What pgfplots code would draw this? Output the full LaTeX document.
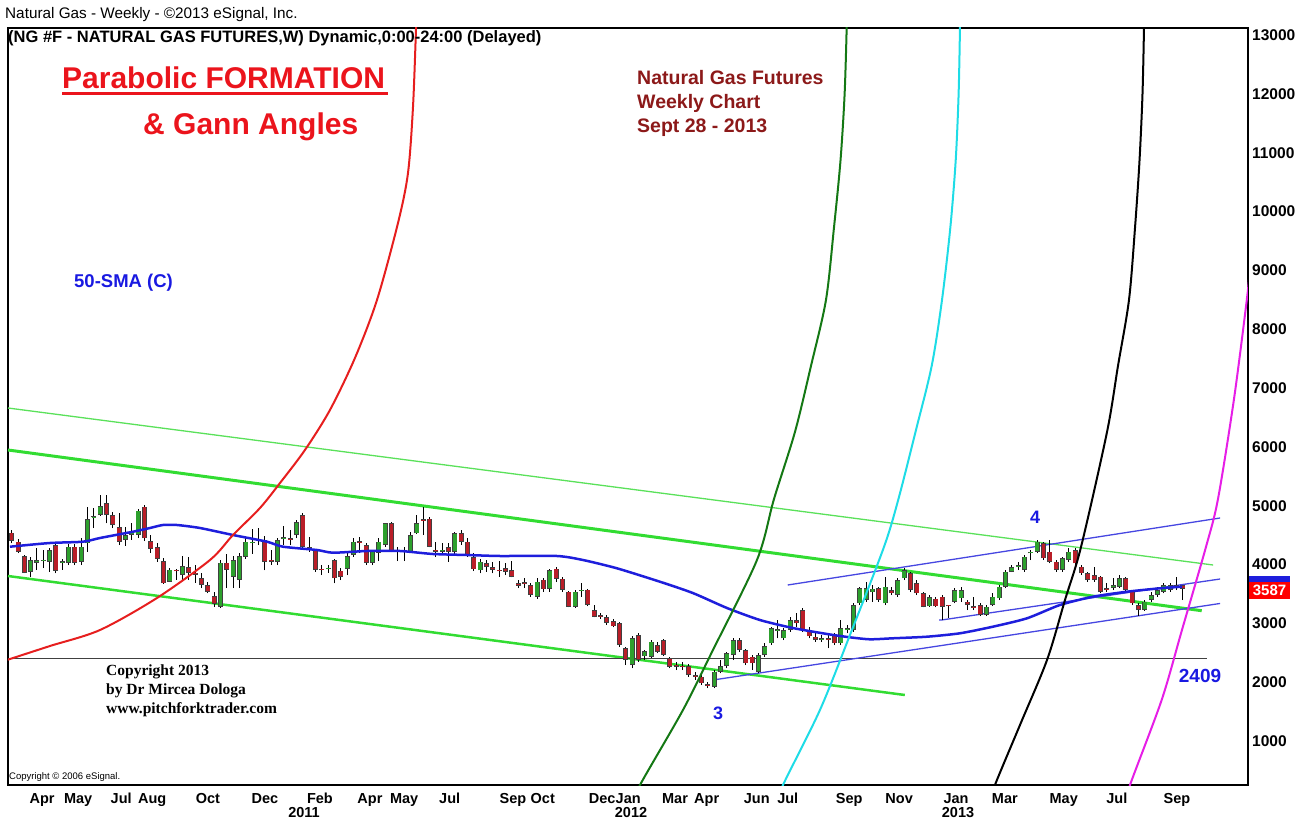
\documentclass[border=0pt]{standalone}
\usepackage{pgfplots}
\pgfplotsset{compat=1.18}
\usepackage{pgfplotstable}
\usepackage{fontspec}
\setmainfont{Liberation Sans}
\newfontfamily\serifb{Liberation Serif}
\definecolor{cgreen}{RGB}{45,160,45}
\definecolor{cred}{RGB}{185,30,40}
\definecolor{lgreen}{RGB}{50,220,50}
\definecolor{tgreen}{RGB}{90,225,90}
\definecolor{smablue}{RGB}{30,30,220}
\definecolor{tblue}{RGB}{70,70,225}
\definecolor{arcred}{RGB}{230,30,30}
\definecolor{arcgreen}{RGB}{20,120,20}
\definecolor{arccyan}{RGB}{30,220,230}
\definecolor{arcmag}{RGB}{230,30,230}
\definecolor{txtred}{RGB}{235,20,28}
\definecolor{darkred}{RGB}{140,25,25}
\definecolor{txtblue}{RGB}{25,25,225}

\pgfplotstableread{
i O H L C
0 4540 4587 4360 4400
1 4390 4434 4196 4220
2 4145 4162 3856 3860
3 3878 4123 3793 4077
4 4030 4281 3907 4077
5 4060 4247 3940 4080
6 4050 4281 3878 4247
7 4332 4360 3850 3895
8 4030 4100 3910 4060
9 4026 4350 3990 4303
10 4303 4350 3990 4026
11 4050 4445 3990 4303
12 4360 4983 4218 4769
13 4800 4960 4620 4820
14 4840 5180 4830 4995
15 5040 5180 4700 4840
16 4840 4900 4620 4670
17 4640 4870 4330 4390
18 4420 4640 4320 4500
19 4500 4710 4420 4560
20 4500 4950 4450 4915
21 4983 5010 4400 4445
22 4400 4500 4200 4270
23 4300 4360 4050 4100
24 4060 4111 3670 3680
25 3710 3940 3700 3915
26 3910 3920 3740 3885
27 3820 4145 3740 3975
28 3960 4130 3740 3860
29 3860 3990 3690 3820
30 3770 3850 3600 3650
31 3650 3700 3510 3540
32 3465 3540 3280 3330
33 3280 4080 3260 4030
34 4030 4180 3600 3915
35 3790 4145 3600 4077
36 3740 4190 3600 4145
37 4130 4450 4100 4390
38 4360 4600 4180 4390
39 4440 4620 4330 4410
40 4417 4480 3900 4050
41 4080 4240 4000 4050
42 4050 4450 3990 4417
43 4430 4650 4330 4460
44 4450 4590 4330 4420
45 4500 4760 4450 4725
46 4840 4870 4270 4300
47 4300 4470 4220 4270
48 4247 4270 3880 3907
49 3930 3990 3820 3905
50 3920 3990 3860 3945
51 4077 4100 3680 3765
52 3895 3940 3737 3793
53 3930 4190 3820 4145
54 4160 4450 4130 4390
55 4400 4470 4200 4370
56 4330 4360 4000 4030
57 4030 4250 3990 4220
58 4200 4450 4060 4390
59 4330 4710 4300 4700
60 4700 4720 4210 4220
61 4250 4300 4060 4220
62 4220 4300 4060 4250
63 4220 4560 4200 4500
64 4530 4840 4520 4700
65 4770 4983 4500 4745
66 4780 4810 4290 4300
67 4250 4390 4130 4220
68 4220 4360 4160 4250
69 4300 4360 4050 4220
70 4220 4560 4160 4530
71 4530 4590 4330 4390
72 4390 4450 4130 4160
73 4130 4190 3890 3920
74 3900 4100 3850 4050
75 4020 4080 3880 3960
76 3960 4050 3850 3910
77 3910 4060 3790 3885
78 3940 4030 3820 3880
79 3900 4060 3780 3790
80 3680 3740 3600 3640
81 3700 3770 3600 3675
82 3650 3680 3450 3480
83 3450 3770 3420 3710
84 3740 3770 3540 3580
85 3590 3930 3540 3900
86 3930 3960 3700 3760
87 3760 3780 3540 3570
88 3540 3550 3270 3280
89 3280 3560 3260 3540
90 3550 3680 3450 3575
91 3570 3580 3290 3310
92 3220 3310 3100 3110
93 3140 3180 3080 3110
94 3100 3140 2980 3010
95 3040 3080 2930 2950
96 3000 3029 2604 2632
97 2575 2600 2290 2377
98 2292 2785 2235 2745
99 2802 2830 2350 2377
100 2440 2550 2380 2530
101 2434 2717 2405 2689
102 2632 2689 2490 2519
103 2717 2730 2445 2462
104 2405 2434 2235 2264
105 2300 2350 2207 2260
106 2280 2350 2207 2255
107 2275 2309 2094 2122
108 2120 2180 2040 2090
109 2094 2122 1952 1980
110 1970 2010 1900 1940
111 1924 2207 1895 2179
112 2179 2377 2150 2275
113 2275 2519 2235 2490
114 2462 2745 2377 2717
115 2717 2745 2519 2547
116 2547 2560 2292 2320
117 2434 2462 2207 2320
118 2179 2490 2150 2462
119 2462 2660 2434 2615
120 2660 2944 2632 2915
121 2870 3057 2745 2900
122 2745 2915 2717 2887
123 2887 3114 2859 3057
124 3057 3170 2944 3000
125 3227 3255 2859 2887
126 2860 2944 2745 2780
127 2775 2830 2689 2717
128 2720 2802 2689 2745
129 2745 2802 2575 2717
130 2802 2830 2632 2660
131 2660 3057 2632 2915
132 2880 2972 2830 2915
133 2887 3340 2859 3312
134 3340 3624 3312 3595
135 3397 3709 3369 3595
136 3530 3652 3369 3590
137 3595 3624 3369 3397
138 3340 3794 3312 3624
139 3567 3624 3482 3510
140 3482 3765 3454 3737
141 3765 3935 3737 3907
142 3850 3879 3539 3567
143 3680 3737 3482 3510
144 3510 3539 3270 3284
145 3290 3482 3280 3440
146 3420 3454 3270 3290
147 3454 3482 3057 3284
148 3312 3320 3085 3290
149 3369 3595 3340 3567
150 3425 3624 3369 3567
151 3369 3397 3227 3312
152 3284 3454 3227 3262
153 3312 3340 3125 3142
154 3142 3312 3125 3284
155 3312 3510 3295 3454
156 3425 3652 3397 3624
157 3624 3907 3595 3879
158 3880 3992 3870 3950
159 3964 4049 3907 3992
160 3907 4162 3879 4134
161 4190 4247 4077 4220
162 4219 4417 4190 4389
163 4360 4389 4077 4105
164 4219 4417 4020 4049
165 4049 4077 3879 3907
166 3907 4134 3879 4105
167 4077 4275 4049 4219
168 4247 4275 3992 4020
169 3964 3992 3822 3850
170 3850 3879 3709 3737
171 3822 3964 3709 3737
172 3794 3810 3510 3539
173 3595 3680 3539 3567
174 3600 3765 3567 3650
175 3624 3822 3595 3765
176 3765 3780 3539 3567
177 3539 3550 3312 3340
178 3312 3340 3125 3227
179 3227 3397 3215 3369
180 3397 3539 3369 3482
181 3482 3624 3454 3567
182 3539 3680 3510 3652
183 3567 3680 3539 3652
184 3620 3794 3567 3650
185 3652 3660 3397 3587
}\candles

\pgfplotstableread{
i P
-0.27 4303
6.05 4366
11.26 4388
13.95 4451
19.16 4558
21.85 4621
23.9 4672
26.1 4672
29.75 4621
34.96 4502
40.33 4388
42.86 4303
48.23 4247
50.76 4201
56.13 4230
61.34 4230
66.55 4179
71.92 4162
77.14 4145
86.14 4145
90.25 4077
95.62 3936
102.4 3708
107.6 3516
113.0 3261
118.2 3057
123.4 2921
128.8 2819
132.4 2763
135.6 2729
139.2 2746
144.6 2773
149.8 2831
155.0 2943
160.4 3086
165.6 3312
170.8 3453
176.2 3538
181.4 3596
184.9 3623
}\sma

\begin{document}
\begin{tikzpicture}
\path[use as bounding box] (0,0) rectangle (1313pt,820pt);
\begin{axis}[
  at={(8pt,35pt)}, anchor=south west,
  scale only axis, width=1240pt, height=757pt,
  xmin=-0.58, xmax=195.31, ymin=252, ymax=13121,
  axis line style={black, line width=1.2pt},
  clip mode=individual,
  major tick length=0pt,
  scaled y ticks=false, scaled x ticks=false,
  xtick={4.8,10.5,17.3,22.2,31.0,40.0,48.7,56.6,62.0,69.2,79.2,83.9,93.3,97.4,104.8,109.8,117.7,122.6,132.3,140.2,149.2,156.9,166.2,174.6,184.1},
  xticklabels={Apr,May,Jul,Aug,Oct,Dec,Feb,Apr,May,Jul,Sep,Oct,Dec,Jan,Mar,Apr,Jun,Jul,Sep,Nov,Jan,Mar,May,Jul,Sep},
  xticklabel style={anchor=base, yshift=-18pt, inner sep=0pt, font=\bfseries\fontsize{14.5}{14.5}\selectfont},
  ytick={1000,2000,3000,4000,5000,6000,7000,8000,9000,10000,11000,12000,13000},
  yticklabels={1000,2000,3000,4000,5000,6000,7000,8000,9000,10000,11000,12000,13000},
  yticklabel pos=right,
  yticklabel style={anchor=west, inner sep=0pt, xshift=4pt, font=\bfseries\fontsize{15.5}{15.5}\selectfont},
]
% channel lines
\addplot[tgreen, line width=1.3pt] coordinates {(-0.58,6661) (189.8,3992)};
\addplot[lgreen, line width=3pt] coordinates {(-0.58,5947) (188.0,3215)};
\addplot[lgreen, line width=2.5pt] coordinates {(-0.58,3805) (141.1,1782)};
\addplot[black!75, line width=1.2pt] coordinates {(-0.58,2409) (188.9,2409)};
\addplot[tblue, line width=1.3pt] coordinates {(122.6,3652) (190.9,4791)};
\addplot[tblue, line width=1.3pt] coordinates {(146.5,3057) (146.9,3057) (190.9,3754)};
\addplot[tblue, line width=1.3pt] coordinates {(110.8,2037) (190.9,3338)};
% candles: wicks
\addplot[draw=none, mark=none, error bars/.cd, y dir=plus, y explicit, error mark=none,
  error bar style={draw=black, solid, line width=1pt}]
  table[x=i, y=L, y error expr={\thisrow{H}-\thisrow{L}}] {\candles};
% bodies outline
\addplot[draw=none, mark=none, error bars/.cd, y dir=plus, y explicit, error mark=none,
  error bar style={draw=black!75, solid, line width=5pt}]
  table[x=i, y expr={min(\thisrow{O},\thisrow{C})}, y error expr={max(abs(\thisrow{C}-\thisrow{O}),25)}] {\candles};
% green bodies
\addplot[draw=none, mark=none, unbounded coords=discard, error bars/.cd, y dir=plus, y explicit, error mark=none,
  error bar style={draw=cgreen, solid, line width=3.6pt}]
  table[x=i, y expr={(\thisrow{C}>=\thisrow{O}) ? (min(\thisrow{O},\thisrow{C})+11) : nan}, y error expr={max(abs(\thisrow{C}-\thisrow{O})-22,4)}] {\candles};
% red bodies
\addplot[draw=none, mark=none, unbounded coords=discard, error bars/.cd, y dir=plus, y explicit, error mark=none,
  error bar style={draw=cred, solid, line width=3.6pt}]
  table[x=i, y expr={(\thisrow{C}<\thisrow{O}) ? (min(\thisrow{O},\thisrow{C})+11) : nan}, y error expr={max(abs(\thisrow{C}-\thisrow{O})-22,4)}] {\candles};
% 50-SMA
\addplot[smablue, line width=2.5pt, smooth, tension=0.4] table[x=i, y=P] {\sma};
% arcs
\addplot[arcred, line width=2pt, smooth, tension=0.5] coordinates {
(-0.74,2377) (6.05,2615) (13.95,2887) (22.95,3431) (31.33,4077) (34.96,4502) (39.23,4961) (42.39,5386) (46.33,5947) (50.28,6627) (54.23,7511) (57.71,8497) (61.03,9806) (62.61,10656) (63.40,11778) (63.88,13121) (64.0,13600)};
\addplot[arcgreen, line width=2pt, smooth, tension=0.5] coordinates {
(98.47,-3) (99.26,252) (106.05,1527) (110.63,2513) (117.74,4077) (120.43,5114) (123.74,6253) (126.27,7375) (128.64,8497) (129.90,9721) (130.93,10860) (131.58,11982) (131.91,13121) (131.95,13600)};
\addplot[arccyan, line width=2pt, smooth, tension=0.5] coordinates {
(121.2,-3) (121.85,252) (127.69,1527) (132.43,2802) (137.8,4298) (140.09,5114) (142.78,6253) (145.34,7375) (146.97,8497) (148.28,9721) (149.13,10860) (149.59,11982) (149.81,13121) (149.85,13600)};
\addplot[black, line width=2pt, smooth, tension=0.5] coordinates {
(154.8,-3) (155.34,252) (159.29,1272) (163.56,2377) (166.4,3397) (168.93,4298) (173.04,6253) (174.77,7375) (176.51,8497) (177.46,9721) (178.17,10860) (178.64,11982) (178.88,13121) (178.9,13600)};
\addplot[arcmag, line width=2pt, smooth, tension=0.5] coordinates {
(176.2,-3) (176.67,252) (181.67,1697) (184.88,2887) (188.67,4298) (190.57,5114) (193.1,6814) (195.12,8497) (195.6,9007)};
\end{axis}
% header texts
\node[anchor=base west, inner sep=0pt, font=\fontsize{15.3}{15.3}\selectfont] at (5pt,801pt) {Natural Gas - Weekly - \textcopyright2013 eSignal, Inc.};
\node[anchor=base west, inner sep=0pt, font=\bfseries\fontsize{16.5}{16.5}\selectfont] at (8pt,777pt) {(NG \#F - NATURAL GAS FUTURES,W) Dynamic,0:00-24:00 (Delayed)};
% title
\node[anchor=base west, inner sep=0pt, text=txtred, font=\bfseries\fontsize{30}{30}\selectfont] at (62pt,731pt) {Parabolic FORMATION};
\draw[txtred, line width=2.5pt] (62pt,726.5pt) -- (388pt,726.5pt);
\node[anchor=base west, inner sep=0pt, text=txtred, font=\bfseries\fontsize{30}{30}\selectfont] at (143pt,685pt) {\& Gann Angles};
\node[anchor=base west, inner sep=0pt, text=txtblue, font=\bfseries\fontsize{18.5}{18.5}\selectfont] at (74pt,532pt) {50-SMA (C)};
\node[anchor=base west, inner sep=0pt, text=darkred, font=\bfseries\fontsize{19.5}{19.5}\selectfont] at (637pt,735pt) {Natural Gas Futures};
\node[anchor=base west, inner sep=0pt, text=darkred, font=\bfseries\fontsize{19.5}{19.5}\selectfont] at (637pt,711pt) {Weekly Chart};
\node[anchor=base west, inner sep=0pt, text=darkred, font=\bfseries\fontsize{19.5}{19.5}\selectfont] at (637pt,687pt) {Sept 28 - 2013};
% wave labels
\node[text=txtblue, inner sep=0pt, font=\bfseries\fontsize{18}{18}\selectfont] at (1035pt,303pt) {4};
\node[text=txtblue, inner sep=0pt, font=\bfseries\fontsize{18}{18}\selectfont] at (718pt,107pt) {3};
\node[text=txtblue, inner sep=0pt, font=\bfseries\fontsize{19}{19}\selectfont] at (1200pt,144pt) {2409};
% copyright
\node[anchor=base west, inner sep=0pt, font=\serifb\bfseries\fontsize{15.5}{15.5}\selectfont] at (106pt,145pt) {Copyright 2013};
\node[anchor=base west, inner sep=0pt, font=\serifb\bfseries\fontsize{15.5}{15.5}\selectfont] at (106pt,126pt) {by Dr Mircea Dologa};
\node[anchor=base west, inner sep=0pt, font=\serifb\bfseries\fontsize{15.5}{15.5}\selectfont] at (106pt,107pt) {www.pitchforktrader.com};
\node[anchor=base west, inner sep=0pt, font=\fontsize{9.5}{9.5}\selectfont] at (9pt,41pt) {Copyright \textcopyright\ 2006 eSignal.};
% years
\node[anchor=base, inner sep=0pt, font=\bfseries\fontsize{14.5}{14.5}\selectfont] at (304pt,3pt) {2011};
\node[anchor=base, inner sep=0pt, font=\bfseries\fontsize{14.5}{14.5}\selectfont] at (631pt,3pt) {2012};
\node[anchor=base, inner sep=0pt, font=\bfseries\fontsize{14.5}{14.5}\selectfont] at (958pt,3pt) {2013};
% price marker
\fill[smablue] (1249pt,238pt) rectangle (1290pt,244pt);
\fill[red] (1249pt,221pt) rectangle (1290pt,238pt);
\node[text=white, inner sep=0pt, font=\bfseries\fontsize{15}{15}\selectfont] at (1269.5pt,229.5pt) {3587};
\end{tikzpicture}
\end{document}
